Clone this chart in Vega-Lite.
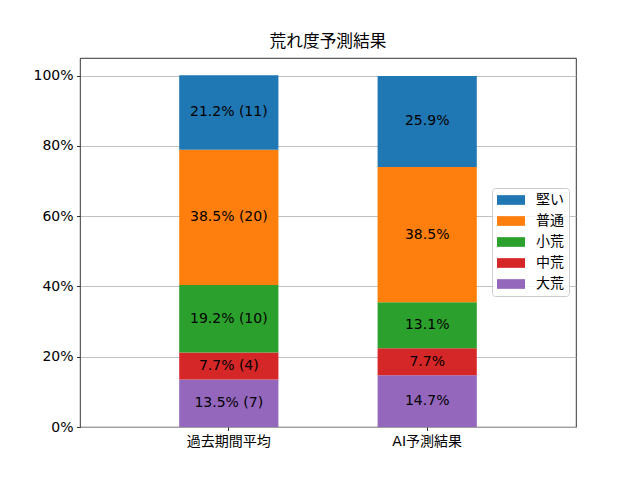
{
  "$schema": "https://vega.github.io/schema/vega-lite/v6.json",
  "width": 496,
  "height": 369,
  "autosize": {"type": "none"},
  "padding": {"left": 80, "top": 58, "right": 64, "bottom": 53},
  "background": "white",
  "title": {"text": "荒れ度予測結果", "fontSize": 16.7, "fontWeight": "normal", "color": "black", "font": "DejaVu Sans, Noto Sans CJK JP", "offset": 7, "anchor": "middle"},
  "config": {
    "font": "DejaVu Sans, Noto Sans CJK JP",
    "view": {"stroke": "black", "strokeWidth": 0.8},
    "axis": {"labelColor": "black", "labelFontSize": 14, "tickColor": "black", "tickSize": 3.5, "tickWidth": 0.8, "domainColor": "black", "domainWidth": 0.8, "labelPadding": 3.5, "gridColor": "#b0b0b0", "gridWidth": 0.8, "title": null}
  },
  "data": {"values": [
    {"group": "過去期間平均", "level": "大荒", "pct": 13.5, "label": "13.5% (7)", "k": 1},
    {"group": "過去期間平均", "level": "中荒", "pct": 7.7, "label": "7.7% (4)", "k": 2},
    {"group": "過去期間平均", "level": "小荒", "pct": 19.2, "label": "19.2% (10)", "k": 3},
    {"group": "過去期間平均", "level": "普通", "pct": 38.5, "label": "38.5% (20)", "k": 4},
    {"group": "過去期間平均", "level": "堅い", "pct": 21.2, "label": "21.2% (11)", "k": 5},
    {"group": "AI予測結果", "level": "大荒", "pct": 14.7, "label": "14.7%", "k": 1},
    {"group": "AI予測結果", "level": "中荒", "pct": 7.7, "label": "7.7%", "k": 2},
    {"group": "AI予測結果", "level": "小荒", "pct": 13.1, "label": "13.1%", "k": 3},
    {"group": "AI予測結果", "level": "普通", "pct": 38.5, "label": "38.5%", "k": 4},
    {"group": "AI予測結果", "level": "堅い", "pct": 25.9, "label": "25.9%", "k": 5}
  ]},
  "transform": [
    {"stack": "pct", "groupby": ["group"], "sort": [{"field": "k", "order": "ascending"}], "as": ["y0", "y1"]},
    {"calculate": "(datum.y0 + datum.y1) / 2", "as": "mid"}
  ],
  "encoding": {
    "x": {"field": "group", "type": "nominal", "sort": ["過去期間平均", "AI予測結果"],
      "scale": {"paddingInner": 0.5, "paddingOuter": 0.5},
      "axis": {"labelAngle": 0, "grid": false, "domain": false}}
  },
  "layer": [
    {
      "mark": {"type": "bar"},
      "encoding": {
        "y": {"field": "y0", "type": "quantitative", "scale": {"domain": [0, 105], "nice": false, "zero": true},
          "axis": {"values": [0, 20, 40, 60, 80, 100], "labelExpr": "datum.value + '%'", "grid": true, "domain": false}},
        "y2": {"field": "y1"},
        "color": {"field": "level", "type": "nominal",
          "scale": {"domain": ["堅い", "普通", "小荒", "中荒", "大荒"], "range": ["#1f77b4", "#ff7f0e", "#2ca02c", "#d62728", "#9467bd"]},
          "legend": {"orient": "none", "legendX": 412, "legendY": 130, "title": null,
            "symbolType": "M-1,-0.692H3V0.692H-1Z", "symbolSize": 196, "symbolStrokeWidth": 0, "symbolOpacity": 1,
            "labelFontSize": 14, "labelColor": "black", "labelOffset": 25, "rowPadding": 7, "padding": 5,
            "fillColor": "rgba(255,255,255,0.8)", "strokeColor": "#cccccc", "cornerRadius": 3}}
      }
    },
    {
      "mark": {"type": "text", "fontSize": 14, "color": "black", "baseline": "middle", "align": "center"},
      "encoding": {
        "y": {"field": "mid", "type": "quantitative"},
        "text": {"field": "label", "type": "nominal"}
      }
    }
  ]
}
